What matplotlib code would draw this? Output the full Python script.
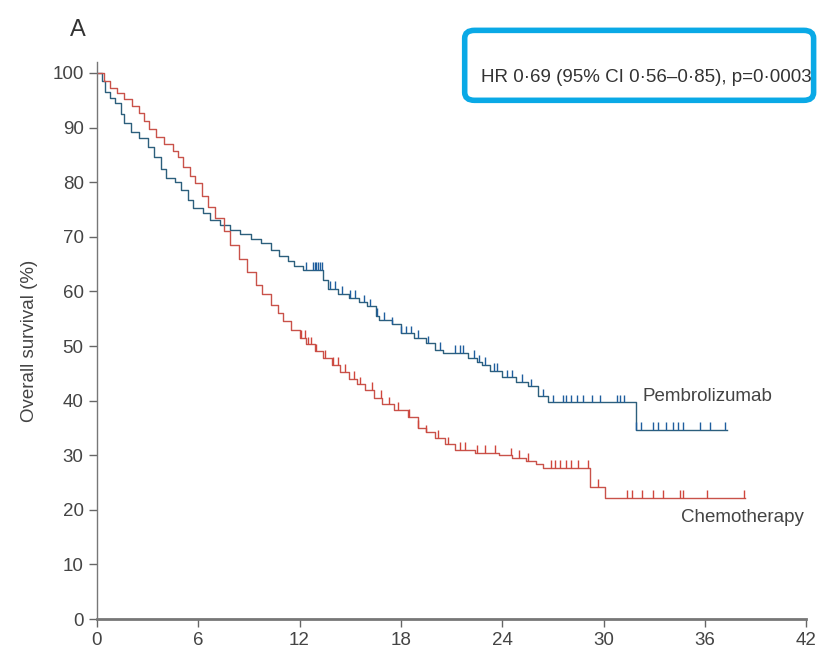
import numpy as np
import matplotlib
matplotlib.use("Agg")
import matplotlib.pyplot as plt
from matplotlib.patches import FancyBboxPatch

plt.rcParams['font.family'] = ['Liberation Sans', 'DejaVu Sans']

# Kaplan-Meier step data: time (months) at which survival (%) drops to the given value
pem_t = [0, 0.3, 0.5, 0.8, 1.1, 1.4, 1.6, 2.0, 2.5, 3.0, 3.4, 3.8, 4.1, 4.6, 5.0, 5.4,
         5.7, 6.3, 6.7, 7.3, 7.9, 8.5, 9.1, 9.7, 10.3, 10.8, 11.3, 11.7, 12.2, 13.4, 13.7,
         14.3, 14.9, 15.5, 16.0, 16.5, 16.7, 17.5, 18.0, 18.8, 19.5, 20.0, 20.5, 22.0,
         22.5, 22.8, 23.3, 24.0, 24.8, 25.5, 26.1, 26.7, 31.9]
pem_s = [100, 98.5, 96.5, 95.4, 94.5, 92.5, 90.8, 89.2, 88.1, 86.4, 84.6, 82.4, 80.8, 80.0,
         78.6, 76.7, 75.3, 74.4, 73.1, 72.2, 71.3, 70.5, 69.6, 68.8, 67.6, 66.5, 65.5, 64.6,
         64.0, 62.0, 60.5, 59.5, 58.8, 58.0, 57.3, 55.5, 54.8, 54.0, 52.3, 51.5, 50.5, 49.3,
         48.8, 47.8, 47.0, 46.5, 45.5, 44.3, 43.5, 42.6, 40.8, 39.7, 34.6]
pem_end = 37.3
pem_censor = [12.4, 12.8, 12.9, 13.0, 13.1, 13.2, 13.3, 13.8, 14.1, 14.5, 15.0, 15.3, 15.8,
              16.2, 16.6, 17.0, 17.5, 18.0, 18.3, 18.6, 19.0, 19.6, 20.3, 21.2, 21.5, 21.7,
              22.3, 22.6, 23.0, 23.5, 23.7, 24.3, 24.6, 25.2, 25.7, 26.4, 27.0, 27.6, 27.8,
              28.1, 28.4, 28.8, 29.3, 29.8, 30.8, 31.0, 31.2, 31.9, 32.2, 32.9, 33.2, 33.7,
              34.1, 34.4, 34.7, 35.7, 36.3, 37.2]

chemo_t = [0, 0.4, 0.8, 1.2, 1.6, 2.1, 2.5, 2.8, 3.1, 3.5, 4.0, 4.5, 4.8, 5.1, 5.5, 5.8,
           6.2, 6.6, 7.0, 7.5, 7.9, 8.4, 8.9, 9.4, 9.8, 10.3, 10.7, 11.0, 11.5, 12.0, 12.4,
           12.9, 13.4, 13.9, 14.4, 14.9, 15.4, 15.9, 16.4, 16.9, 17.6, 18.4, 19.0, 19.5,
           20.0, 20.6, 21.2, 22.4, 23.8, 24.6, 25.4, 26.0, 26.4, 29.2, 30.1]
chemo_s = [100, 98.5, 97.3, 96.3, 95.3, 94.0, 92.7, 91.2, 89.8, 88.3, 87.0, 85.8, 84.6,
           82.8, 81.2, 79.9, 77.5, 75.5, 73.5, 71.0, 68.5, 66.0, 63.5, 61.2, 59.5, 57.5,
           56.0, 54.5, 53.0, 51.5, 50.3, 49.0, 47.8, 46.5, 45.3, 44.0, 43.0, 42.0, 40.5,
           39.3, 38.3, 37.0, 35.0, 34.2, 33.2, 32.0, 31.0, 30.4, 30.0, 29.5, 29.0, 28.4,
           27.7, 24.2, 22.2]
chemo_end = 38.4
chemo_censor = [12.1, 12.3, 12.5, 12.7, 13.0, 13.5, 14.0, 14.3, 14.7, 15.2, 15.6, 16.3,
                16.8, 17.3, 17.8, 18.5, 19.0, 19.5, 20.2, 20.8, 21.5, 21.8, 22.5, 23.0,
                23.6, 24.5, 25.0, 25.5, 26.9, 27.1, 27.4, 27.8, 28.1, 28.5, 29.1, 29.7,
                31.4, 31.7, 32.3, 32.9, 33.5, 34.5, 34.7, 36.1, 38.3]

x_ticks = [0, 6, 12, 18, 24, 30, 36, 42]
y_ticks = [0, 10, 20, 30, 40, 50, 60, 70, 80, 90, 100]

PEM_LINE = '#2c5f7c'
PEM_TICK = '#1f5e9e'
CHEMO_LINE = '#c9524a'
CHEMO_TICK = '#d0463c'
TXT = '#444444'

fig = plt.figure(figsize=(8.21, 6.6), dpi=100)
ax = fig.add_axes([0.118, 0.062, 0.864, 0.844])


def km(ax, t, s, end, censor, lc, tc):
    t = np.asarray(t, float)
    s = np.asarray(s, float)
    tt = np.append(t, end)
    ss = np.append(s, s[-1])
    ax.step(tt, ss, where='post', color=lc, lw=1.0)
    c = np.asarray(censor, float)
    idx = np.searchsorted(t, c, side='right') - 1
    cs = s[idx]
    ax.vlines(c, cs, cs + 1.4, color=tc, lw=1.0)


km(ax, pem_t, pem_s, pem_end, pem_censor, PEM_LINE, PEM_TICK)
km(ax, chemo_t, chemo_s, chemo_end, chemo_censor, CHEMO_LINE, CHEMO_TICK)

ax.set_xlim(0, 42)
ax.set_ylim(0, 102)
ax.set_xticks(x_ticks)
ax.set_yticks(y_ticks)
ax.spines['top'].set_visible(False)
ax.spines['right'].set_visible(False)
for sp in ('left', 'bottom'):
    ax.spines[sp].set_color('#777777')
    ax.spines[sp].set_linewidth(1.0)
ax.spines['bottom'].set_linewidth(2.0)
ax.tick_params(axis='both', colors='#666666', labelcolor=TXT, labelsize=13.5,
               length=6, width=1)
ax.set_ylabel('Overall survival (%)', fontsize=13.5, color=TXT, labelpad=10)

ax.text(32.3, 40.8, 'Pembrolizumab', fontsize=13.5, color=TXT, ha='left', va='center')
ax.text(34.6, 18.6, 'Chemotherapy', fontsize=13.5, color=TXT, ha='left', va='center')

fig.text(0.085, 0.955, 'A', fontsize=17, color='#333333', ha='left', va='center')

box = FancyBboxPatch((0.566, 0.848), 0.425, 0.106, transform=fig.transFigure,
                     boxstyle='round,pad=0,rounding_size=0.012',
                     facecolor='white', edgecolor='#0aa9e6', linewidth=4)
fig.patches.append(box)
fig.text(0.787, 0.882, 'HR 0·69 (95% CI 0·56–0·85), p=0·0003', fontsize=13.5,
         color='#333333', ha='center', va='center')

fig.savefig('out.png', dpi=100)
